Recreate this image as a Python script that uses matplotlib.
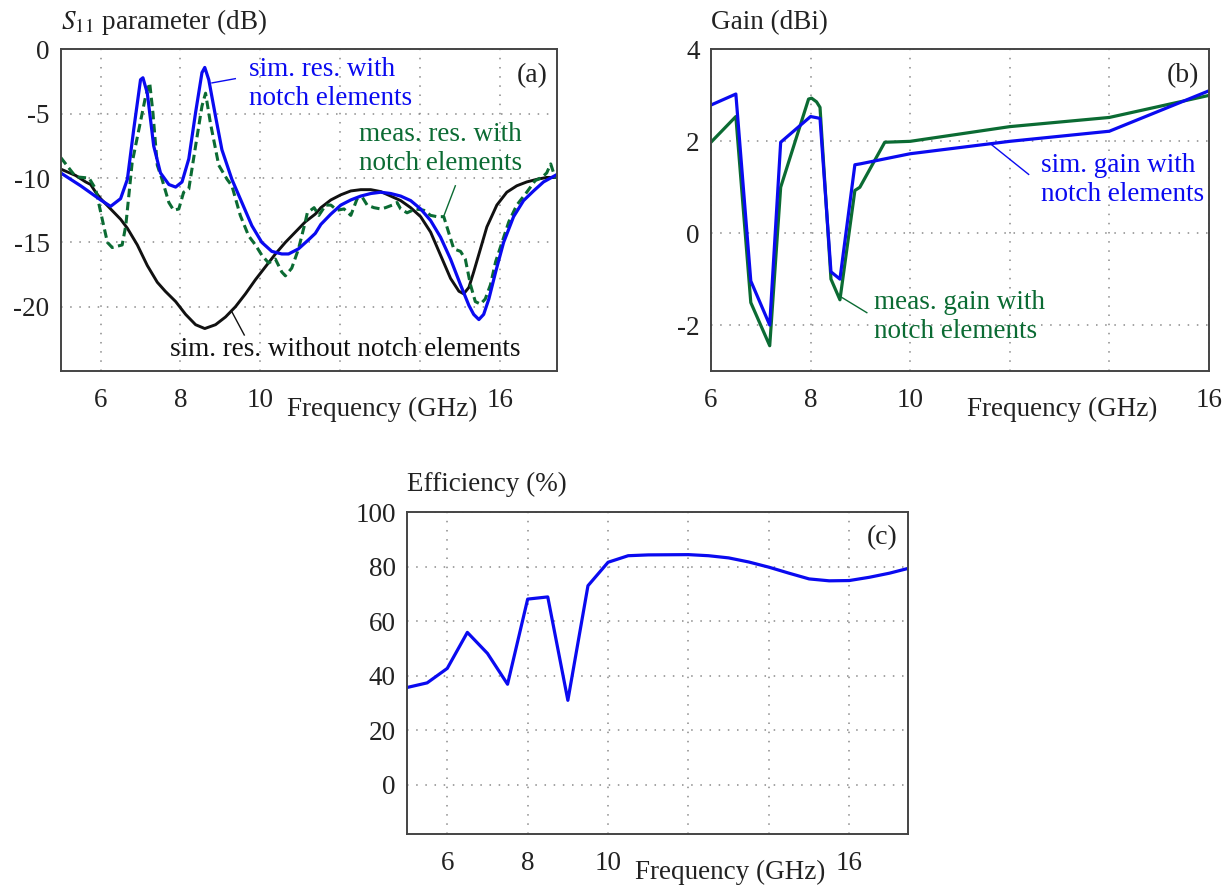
import matplotlib
matplotlib.use("Agg")
import matplotlib.pyplot as plt

plt.rcParams["font.family"] = ["Liberation Serif", "DejaVu Serif"]
plt.rcParams["mathtext.fontset"] = "stix"
plt.rcParams["axes.unicode_minus"] = False

BLUE = "#0a0af0"
GREEN = "#0b6b33"
BLACK = "#111111"
FS = 19.5

# ---- (a) S11 ----
S11_OFF_F = [5.0, 5.375, 5.625, 5.75, 5.875, 6.0, 6.25, 6.5, 6.67, 6.92, 7.17, 7.42, 7.62, 7.88,
             8.13, 8.38, 8.61, 8.88, 9.13, 9.38, 9.63, 9.88, 10.13, 10.38, 10.63, 10.88, 11.13,
             11.38, 11.52, 11.77, 12.02, 12.27, 12.52, 12.77, 13.02, 13.27, 13.52, 13.77, 14.02,
             14.27, 14.52, 14.77, 14.98, 15.1, 15.23, 15.35, 15.52, 15.68, 15.93, 16.18, 16.43,
             16.68, 16.93, 17.18, 17.45]
S11_OFF = [-9.3, -9.8, -10.3, -10.5, -11.1, -11.6, -12.4, -13.2, -13.9, -15.2, -16.8, -18.1, -18.8,
           -19.6, -20.6, -21.4, -21.7, -21.4, -20.8, -20.0, -19.0, -17.9, -16.9, -15.9, -15.0,
           -14.2, -13.4, -12.8, -12.3, -11.7, -11.3, -11.0, -10.9, -10.9, -11.05, -11.4, -11.75,
           -12.3, -13.0, -14.2, -16.0, -17.8, -18.8, -19.0, -18.5, -17.3, -15.5, -13.8, -12.1,
           -11.1, -10.6, -10.3, -10.1, -9.95, -9.95]

S11_SIM_F = [5.0, 5.5, 6.0, 6.25, 6.5, 6.67, 6.83, 7.0, 7.06, 7.17, 7.33, 7.5, 7.71, 7.88, 8.04,
             8.21, 8.38, 8.54, 8.61, 8.71, 8.88, 9.04, 9.29, 9.54, 9.79, 10.04, 10.29, 10.54,
             10.71, 10.96, 11.21, 11.38, 11.52, 11.77, 12.02, 12.27, 12.52, 12.77, 13.02, 13.27,
             13.52, 13.77, 14.02, 14.27, 14.52, 14.77, 15.02, 15.23, 15.35, 15.48, 15.6, 15.73,
             15.9, 16.1, 16.35, 16.6, 16.85, 17.1, 17.45]
S11_SIM = [-9.6, -10.6, -11.7, -12.2, -11.6, -10.1, -6.2, -2.35, -2.2, -3.4, -7.5, -9.6, -10.5,
           -10.7, -10.3, -8.5, -4.9, -1.8, -1.4, -2.35, -5.2, -7.8, -10.1, -11.9, -13.7, -15.0,
           -15.7, -15.9, -15.9, -15.5, -14.8, -14.3, -13.6, -12.8, -12.1, -11.7, -11.4, -11.2,
           -11.1, -11.2, -11.4, -11.75, -12.4, -13.3, -14.6, -16.3, -18.3, -19.9, -20.6, -21.0,
           -20.6, -19.4, -17.3, -15.0, -13.0, -11.75, -11.0, -10.3, -9.7]

S11_MEAS_F = [5.0, 5.25, 5.375, 5.71, 5.875, 6.04, 6.17, 6.29, 6.54, 6.63, 6.79, 6.96, 7.13, 7.23,
              7.31, 7.42, 7.54, 7.71, 7.83, 7.96, 8.08, 8.21, 8.38, 8.54, 8.63, 8.75, 8.96, 9.17,
              9.29, 9.5, 9.71, 9.88, 10.04, 10.21, 10.38, 10.54, 10.63, 10.79, 10.96, 11.13,
              11.18, 11.35, 11.47, 11.64, 11.77, 11.93, 12.1, 12.27, 12.43, 12.56, 12.68, 12.85,
              13.02, 13.14, 13.31, 13.43, 13.52, 13.68, 13.89, 14.1, 14.27, 14.43, 14.6, 14.72,
              14.85, 15.02, 15.14, 15.27, 15.39, 15.52, 15.64, 15.77, 15.9, 16.06, 16.23, 16.43,
              16.68, 16.89, 17.06, 17.18, 17.28, 17.39, 17.45]
S11_MEAS = [-8.4, -9.4, -9.9, -10.0, -10.85, -13.2, -15.0, -15.4, -15.2, -13.7, -8.8, -6.2, -3.6,
            -2.6, -4.9, -9.0, -10.1, -11.9, -12.5, -12.4, -11.1, -10.85, -7.5, -4.4, -3.4, -5.7,
            -9.0, -10.1, -10.6, -12.9, -14.5, -15.2, -16.0, -16.6, -16.3, -17.3, -17.6, -17.0,
            -15.5, -13.4, -12.7, -12.3, -12.9, -12.1, -12.1, -12.5, -12.4, -12.9, -11.6, -11.5,
            -12.1, -12.3, -12.4, -12.3, -12.1, -11.9, -12.4, -12.7, -12.4, -12.5, -12.9, -13.0,
            -13.0, -14.2, -15.5, -15.7, -16.3, -18.3, -19.6, -19.8, -19.4, -18.3, -16.5, -15.0,
            -13.4, -12.1, -11.1, -10.2, -9.95, -9.6, -8.9, -9.95, -9.7]

# ---- (b) gain ----
GAIN_SIM_F = [6.0, 6.5, 6.8, 7.18, 7.4, 8.0, 8.19, 8.41, 8.59, 8.89, 9.0, 10.0, 12.0, 14.0, 16.0]
GAIN_SIM = [2.79, 3.03, -1.04, -2.0, 1.98, 2.54, 2.5, -0.84, -1.0, 1.49, 1.51, 1.73, 2.0, 2.22, 3.1]

GAIN_MEAS_F = [6.0, 6.5, 6.8, 7.18, 7.4, 7.96, 8.02, 8.12, 8.19, 8.41, 8.59, 8.89, 8.99, 9.49,
               10.0, 12.0, 14.0, 16.0]
GAIN_MEAS = [1.98, 2.54, -1.51, -2.45, 1.0, 2.92, 2.94, 2.86, 2.74, -1.0, -1.45, 0.93, 1.0, 1.98,
             2.0, 2.32, 2.52, 3.0]

# ---- (c) efficiency ----
EFF_F = [5.0, 5.5, 6.0, 6.5, 7.0, 7.5, 8.0, 8.5, 9.0, 9.5, 10.0, 10.5, 11.0, 12.0, 12.5, 13.0,
         13.5, 14.0, 14.5, 15.0, 15.5, 16.0, 16.5, 17.0, 17.45]
EFF = [35.7, 37.4, 42.7, 55.9, 48.2, 36.9, 68.1, 68.9, 31.0, 73.0, 81.6, 84.0, 84.3, 84.4, 84.0,
       83.2, 81.7, 79.8, 77.6, 75.5, 74.8, 74.9, 76.1, 77.6, 79.3]

X_TICKS = [6, 8, 10, 12, 14, 16]
X_TICK_LABELS = ["6", "8", "10", "", "", "16"]


def style_axes(ax, xlim, ylim, yticks, ylabel, letter):
    ax.set_xlim(*xlim)
    ax.set_ylim(*ylim)
    ax.set_xticks(X_TICKS)
    ax.set_xticklabels(X_TICK_LABELS)
    ax.set_yticks(yticks)
    ax.tick_params(length=0, labelsize=FS, colors="#222222")
    ax.tick_params(axis="x", pad=12)
    ax.tick_params(axis="y", pad=8)
    ax.grid(True, color="#8a8a8a", linestyle=(0, (1, 5)), linewidth=1.1)
    for sp in ax.spines.values():
        sp.set_color("#444444")
        sp.set_linewidth(1.4)
    ax.text(0.0, 1.085, ylabel, transform=ax.transAxes, ha="left", va="center",
            fontsize=FS, color="#222222")
    ax.text(13.05, -0.118, "Frequency (GHz)", transform=ax.get_xaxis_transform(),
            ha="center", va="center", fontsize=FS, color="#222222")
    ax.text(0.98, 0.92, letter, transform=ax.transAxes, ha="right", va="center",
            fontsize=FS + 0.5, color="#222222")


fig = plt.figure(figsize=(12.22, 8.85), dpi=100)
ax_a = fig.add_axes([0.0497, 0.5808, 0.4065, 0.3633])
ax_b = fig.add_axes([0.5818, 0.5808, 0.4075, 0.3633])
ax_c = fig.add_axes([0.3331, 0.0576, 0.4096, 0.3638])

# (a)
ax_a.plot(S11_OFF_F, S11_OFF, color=BLACK, lw=2.1)
ax_a.plot(S11_MEAS_F, S11_MEAS, color=GREEN, lw=2.2, dashes=(2.8, 1.5))
ax_a.plot(S11_SIM_F, S11_SIM, color=BLUE, lw=2.3)
style_axes(ax_a, (5.0, 17.45), (-25, 0), [-20, -15, -10, -5, 0],
           "$S_{11}$ parameter (dB)", "(a)")
ax_a.plot([8.79, 9.375], [-2.6, -2.27], color=BLUE, lw=1.0)
ax_a.text(9.71, -2.7, "sim. res. with\nnotch elements", color=BLUE, fontsize=FS,
          ha="left", va="center", linespacing=1.22)
ax_a.plot([14.6, 14.89], [-12.96, -10.6], color=GREEN, lw=1.0)
ax_a.text(12.47, -7.75, "meas. res. with\nnotch elements", color=GREEN, fontsize=FS,
          ha="left", va="center", linespacing=1.22)
ax_a.plot([9.29, 9.6], [-20.4, -22.2], color=BLACK, lw=1.0)
ax_a.text(7.75, -23.35, "sim. res. without notch elements", color=BLACK, fontsize=FS,
          ha="left", va="center")

# (b)
ax_b.plot(GAIN_MEAS_F, GAIN_MEAS, color=GREEN, lw=2.3)
ax_b.plot(GAIN_SIM_F, GAIN_SIM, color=BLUE, lw=2.3)
style_axes(ax_b, (6, 16), (-3, 4), [-2, 0, 2, 4], "Gain (dBi)", "(b)")
ax_b.plot([11.62, 12.38], [1.94, 1.28], color=BLUE, lw=1.0)
ax_b.text(12.63, 1.15, "sim. gain with\nnotch elements", color=BLUE, fontsize=FS,
          ha="left", va="center", linespacing=1.22)
ax_b.plot([8.63, 9.13], [-1.4, -1.73], color=GREEN, lw=1.0)
ax_b.text(9.27, -1.83, "meas. gain with\nnotch elements", color=GREEN, fontsize=FS,
          ha="left", va="center", linespacing=1.22)

# (c)
ax_c.plot(EFF_F, EFF, color=BLUE, lw=2.3)
style_axes(ax_c, (5.0, 17.45), (-18, 100), [0, 20, 40, 60, 80, 100], "Efficiency (%)", "(c)")

fig.savefig("out.png", dpi=100)
